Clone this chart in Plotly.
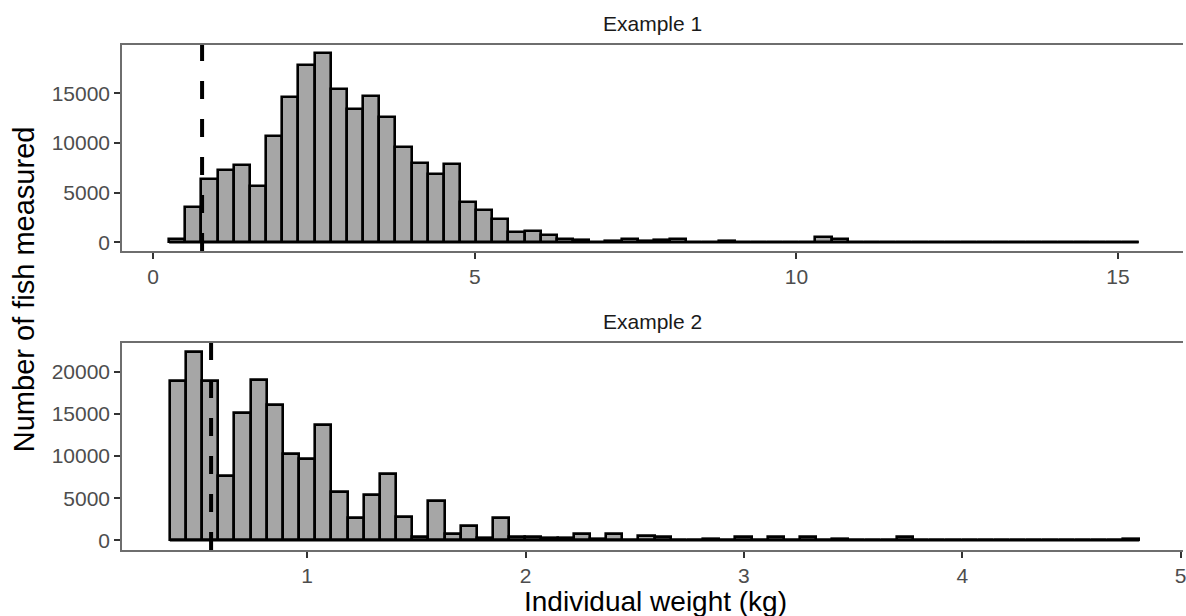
import plotly.graph_objects as go

# ---------------- data ----------------
# Example 1: histogram of individual weights (kg), 60 bins
ex1_bin_start = 0.248
ex1_bin_width = 0.2512
ex1_counts = [
    350, 3590, 6340, 7280, 7790, 5700, 10700, 14660, 17850, 19030,
    15440, 13460, 14700, 12650, 9630, 8020, 6850, 7890, 4090, 3240,
    2350, 1070, 1170, 740, 370, 270, 60, 120, 300, 100,
    200, 300, 30, 20, 130, 0, 0, 0, 0, 0,
    540, 300, 0, 0, 0, 0, 0, 0, 0, 0,
    0, 0, 0, 60, 0, 0, 0, 0, 0, 0,
]
ex1_cutoff = 0.76

# Example 2: histogram of individual weights (kg), 60 bins
ex2_bin_start = 0.371
ex2_bin_width = 0.074
ex2_counts = [
    18970, 22420, 18890, 7700, 15160, 19010, 16070, 10240, 9680, 13690,
    5790, 2620, 5400, 7940, 2820, 400, 4700, 710, 1650, 260,
    2680, 380, 360, 260, 240, 710, 120, 710, 80, 520,
    430, 0, 0, 150, 0, 350, 0, 350, 0, 350,
    0, 150, 0, 0, 0, 350, 0, 0, 0, 0,
    0, 0, 0, 0, 0, 0, 0, 0, 0, 150,
]
ex2_cutoff = 0.56

panel_titles = ["Example 1", "Example 2"]
x_title = "Individual weight (kg)"
y_title = "Number of fish measured"
ex1_xticks = [0, 5, 10, 15]
ex2_xticks = [1, 2, 3, 4, 5]
ex1_yticks = [0, 5000, 10000, 15000]
ex2_yticks = [0, 5000, 10000, 15000, 20000]

# ---------------- style ----------------
FONT = "Liberation Sans, Arial, sans-serif"
BAR_FILL = "#A6A6A6"
OUTLINE = "#000000"
TICK_TXT = "#4D4D4D"
BORDER = "#6E6E6E"

fig = go.Figure()


def add_hist(start, width, counts, xa, ya):
    n = len(counts)
    centers = [start + (i + 0.5) * width for i in range(n)]
    # baseline outline of empty bins (ggplot draws zero-height rects)
    fig.add_trace(go.Scatter(
        x=[start, start + n * width], y=[0, 0], mode="lines",
        line=dict(color=OUTLINE, width=2.6), xaxis=xa, yaxis=ya,
        showlegend=False, hoverinfo="skip"))
    fig.add_trace(go.Bar(
        x=centers, y=counts, width=[width] * n,
        marker=dict(color=BAR_FILL, line=dict(color=OUTLINE, width=2.6)),
        xaxis=xa, yaxis=ya, showlegend=False))


add_hist(ex1_bin_start, ex1_bin_width, ex1_counts, "x", "y")
add_hist(ex2_bin_start, ex2_bin_width, ex2_counts, "x2", "y2")

# dashed cut-off lines
for xref, yref, xv in [("x", "y domain", ex1_cutoff), ("x2", "y2 domain", ex2_cutoff)]:
    fig.add_shape(type="line", xref=xref, yref=yref, x0=xv, x1=xv, y0=0, y1=1,
                  line=dict(color="black", width=4, dash="18px,20px"))

axis_common = dict(
    showgrid=False, zeroline=False, showline=True, linecolor=BORDER, linewidth=1.5,
    ticks="outside", ticklen=6, tickwidth=1.5, tickcolor="#333333",
    tickfont=dict(family=FONT, size=21, color=TICK_TXT),
)

fig.update_layout(
    width=1186, height=616,
    margin=dict(l=122, r=0, t=45, b=66),
    paper_bgcolor="white", plot_bgcolor="white",
    bargap=0, barmode="overlay",
    font=dict(family=FONT),
    xaxis=dict(axis_common, anchor="y", domain=[0, 1], range=[-0.485, 16.01],
               tickvals=ex1_xticks, mirror=True, ticklabeloverflow="allow"),
    yaxis=dict(axis_common, anchor="x", domain=[0.592, 1.0], range=[-880, 19870],
               tickvals=ex1_yticks, tickformat="d"),
    xaxis2=dict(axis_common, anchor="y2", domain=[0, 1], range=[0.152, 5.011],
                tickvals=ex2_xticks, mirror=True, ticklabeloverflow="allow"),
    yaxis2=dict(axis_common, anchor="x2", domain=[0.0, 0.410], range=[-1155, 23452],
                tickvals=ex2_yticks, tickformat="d"),
)

# panel strip titles
fig.add_annotation(text=panel_titles[0], xref="paper", yref="paper", x=0.5, y=1.043,
                   showarrow=False, font=dict(family=FONT, size=21, color="#1A1A1A"),
                   xanchor="center", yanchor="middle")
fig.add_annotation(text=panel_titles[1], xref="paper", yref="paper", x=0.5, y=0.453,
                   showarrow=False, font=dict(family=FONT, size=21, color="#1A1A1A"),
                   xanchor="center", yanchor="middle")
# axis titles
fig.add_annotation(text=x_title, xref="paper", yref="paper", x=0.503, y=-0.102,
                   showarrow=False, font=dict(family=FONT, size=28, color="black"),
                   xanchor="center", yanchor="middle")
fig.add_annotation(text=y_title, xref="paper", yref="paper", x=-0.0921, y=0.517,
                   showarrow=False, textangle=-90,
                   font=dict(family=FONT, size=29, color="black"),
                   xanchor="center", yanchor="middle")

fig.write_html(
    "out.html",
    config={"displayModeBar": False},
    post_script="document.body.style.margin='0';document.body.style.padding='0';"
                "document.body.style.overflow='hidden';"
                "document.documentElement.style.overflow='hidden';",
)
